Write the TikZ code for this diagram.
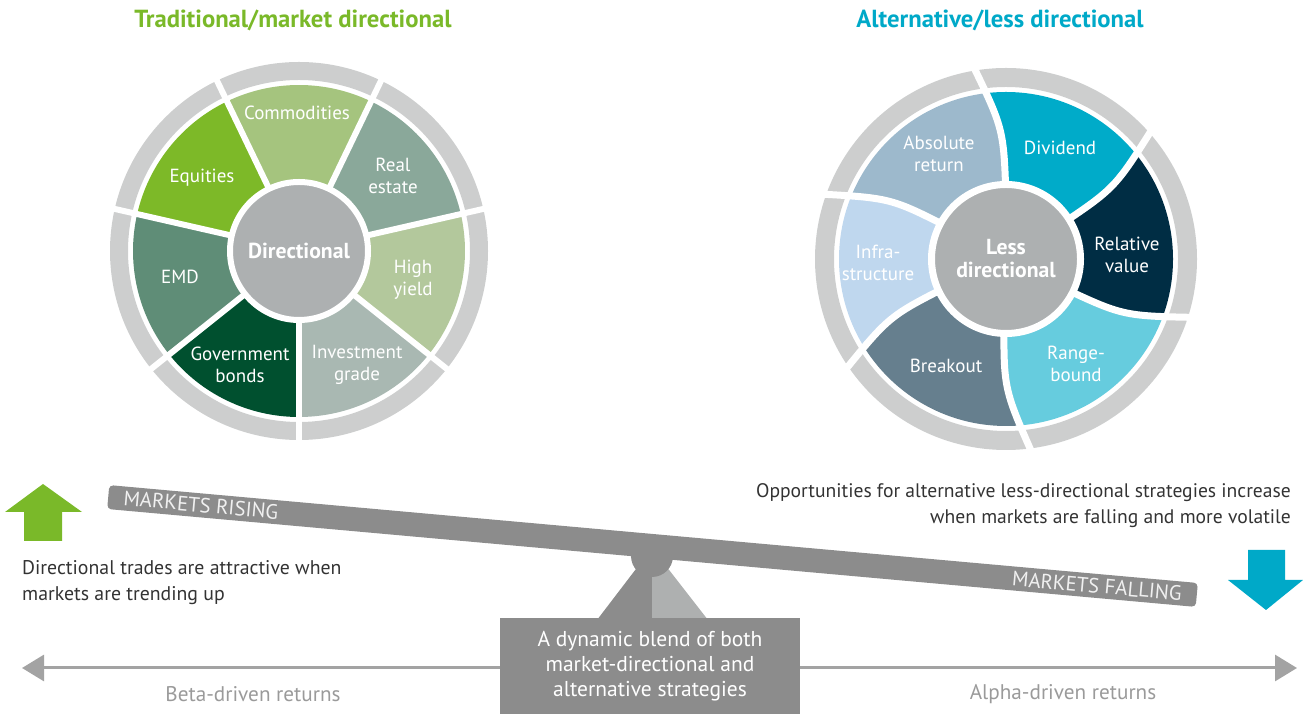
\documentclass[tikz,border=0pt]{standalone}
\usepackage{fontspec}
\setmainfont{PT Sans}
\usetikzlibrary{arrows.meta}

\definecolor{titlegreen}{HTML}{7AB929}
\definecolor{titleteal}{HTML}{00A9C8}
\definecolor{ringgray}{HTML}{CDCECE}
\definecolor{hubgray}{HTML}{ADB0B1}
\definecolor{commod}{HTML}{A5C47E}
\definecolor{realest}{HTML}{8AA89A}
\definecolor{highyld}{HTML}{B3C89C}
\definecolor{invgrade}{HTML}{A9B8B2}
\definecolor{govbond}{HTML}{00502F}
\definecolor{emd}{HTML}{5F8D77}
\definecolor{equity}{HTML}{7DB928}
\definecolor{dividend}{HTML}{00ABC9}
\definecolor{relval}{HTML}{002D44}
\definecolor{rangeb}{HTML}{66CCDE}
\definecolor{breakout}{HTML}{667F8E}
\definecolor{infra}{HTML}{BFD7EE}
\definecolor{absret}{HTML}{9DB9CC}
\definecolor{beamgray}{HTML}{8C8C8C}
\definecolor{lightbase}{HTML}{AEB0B0}
\definecolor{axisgray}{HTML}{A3A3A3}
\definecolor{bodytext}{HTML}{333333}
\definecolor{returntext}{HTML}{9A9A9A}

\begin{document}
\begin{tikzpicture}[x=1pt,y=1pt,
  seglabel/.style={text=white, align=center, inner sep=0pt,
    font=\fontsize{19}{22}\selectfont},
  hub/.style={circle, fill=hubgray, draw=white, text=white, align=center,
    inner sep=0pt, font=\bfseries\fontsize{21.7}{23}\selectfont},
  title/.style={font=\bfseries\fontsize{24.7}{27}\selectfont, inner sep=0pt},
  bodynote/.style={text=bodytext, inner sep=0pt,
    font=\fontsize{19.8}{26}\selectfont},
  beamtext/.style={text=white!94!black, rotate=-5.14, inner sep=0pt,
    font=\fontsize{20.8}{22}\selectfont},
  returns/.style={text=returntext, inner sep=0pt, font=\fontsize{21.2}{24}\selectfont},
  axisline/.style={draw=axisgray, line width=3pt,
    -{Triangle[length=22pt,width=26pt]}}]
\useasboundingbox (0,0) rectangle (1303,714);

% ---------- titles ----------
\node[title, text=titlegreen] (ttrad) at (293,694) {Traditional/market directional};
\node[title, text=titleteal] (talt) at (1000,694) {Alternative/less directional};

% ---------- directional wheel ----------
\begin{scope}[shift={(299,463)}]
  \draw[ringgray, line width=18pt] (0,0) circle[radius=180];
  \foreach \s/\e/\c in {115.71/64.29/commod, 64.29/12.86/realest,
      12.86/-38.57/highyld, -38.57/-90/invgrade, -90/-141.43/govbond,
      -141.43/-192.86/emd, -192.86/-244.29/equity}
    \fill[\c] (0,0) -- (\s:166) arc[start angle=\s, end angle=\e, radius=166] -- cycle;
  \foreach \a in {115.71, 64.29, 12.86, -38.57, -90, -141.43, -192.86}
    \draw[white, line width=6pt] (0,0) -- (\a:196);
\end{scope}
\node[hub, line width=6pt, minimum size=138pt] (dir) at (299,463) {Directional};

\node[seglabel] (lcom) at (297,601) {Commodities};
\node[seglabel] (lre)  at (393,538) {Real\\estate};
\node[seglabel] (lhy)  at (413,434) {High\\yield};
\node[seglabel] (lig)  at (357,349) {Investment\\grade};
\node[seglabel] (lgb)  at (240,349) {Government\\bonds};
\node[seglabel] (lemd) at (180,437) {EMD};
\node[seglabel] (leq)  at (202,536) {Equities};

% ---------- less directional wheel ----------
\begin{scope}[shift={(1006,455)}]
  \draw[ringgray, line width=19pt] (0,0) circle[radius=181.5];
  \begin{scope}
    \clip (0,0) circle[radius=167];
    \foreach \s/\e/\c in {90/32/dividend, 32/-27/relval, -27/-92/rangeb,
        -92/-155/breakout, -155/-209/infra, -209/-270/absret}
      \fill[\c] (0,0) -- (\s:60) .. controls ({\s+1}:130) .. ({\s+10}:200)
        arc[start angle={\s+10}, end angle={\e+10}, radius=200]
        .. controls ({\e+1}:130) .. (\e:60) -- cycle;
  \end{scope}
  \foreach \a in {90, 32, -27, -92, -155, -209}
    \draw[white, line width=7pt] (\a:60) .. controls ({\a+1}:130) .. ({\a+10}:200);
\end{scope}
\node[hub, line width=7pt, minimum size=149pt] (ldir) at (1006,455) {Less\\directional};

\node[seglabel] (rabs) at (939,560)  {Absolute\\return};
\node[seglabel] (rdiv) at (1060,566) {Dividend};
\node[seglabel] (rrv)  at (1127,459) {Relative\\value};
\node[seglabel] (rrb)  at (1076,350) {Range-\\bound};
\node[seglabel] (rbo)  at (946,348)  {Breakout};
\node[seglabel] (rinf) at (878,451)  {Infra-\\structure};

% ---------- see-saw ----------
\fill[beamgray] (652,166) -- (597,94) -- (652,94) -- cycle;
\fill[lightbase] (652,166) -- (708,94) -- (652,94) -- cycle;
\fill[beamgray] (652,158) circle[radius=21];
\node[fill=beamgray, rotate=-5.14, minimum width=1093pt, minimum height=24pt,
  rounded corners=4pt, inner sep=0pt] (beam) at (652.5,168) {};
\node[beamtext] (rising) at (201,209) {MARKETS RISING};
\node[beamtext] (falling) at (1097,128) {MARKETS FALLING};

% ---------- market direction arrows ----------
\fill[titlegreen] (43,230) -- (82,202) -- (62,202) -- (62,173) -- (24,173)
  -- (24,202) -- (5,202) -- cycle;
\fill[titleteal] (1266,104) -- (1303,134) -- (1285,134) -- (1285,164)
  -- (1248,164) -- (1248,134) -- (1228,134) -- cycle;

\node[bodynote, align=left, anchor=west] (uptext) at (22,131)
  {Directional trades are attractive when\\markets are trending up};
\node[bodynote, align=right, anchor=east, font=\fontsize{19.6}{26}\selectfont] (downtext) at (1291,208)
  {Opportunities for alternative less-directional strategies increase\\when markets are falling and more volatile};

% ---------- returns axis and blend box ----------
\coordinate (betaend) at (22,46);
\coordinate (alphaend) at (1297,46);
\node[fill=beamgray, minimum width=300pt, minimum height=96pt, inner sep=0pt,
  text=white, align=center, font=\fontsize{21.5}{25}\selectfont] (blend) at (650,48)
  {A dynamic blend of both\\market-directional and\\alternative strategies};
\draw[axisline] (blend.west |- betaend) -- (betaend);
\draw[axisline] (blend.east |- alphaend) -- (alphaend);
\node[returns] (beta) at (253,20) {Beta-driven returns};
\node[returns] (alpha) at (1063,20) {Alpha-driven returns};
\end{tikzpicture}
\end{document}
